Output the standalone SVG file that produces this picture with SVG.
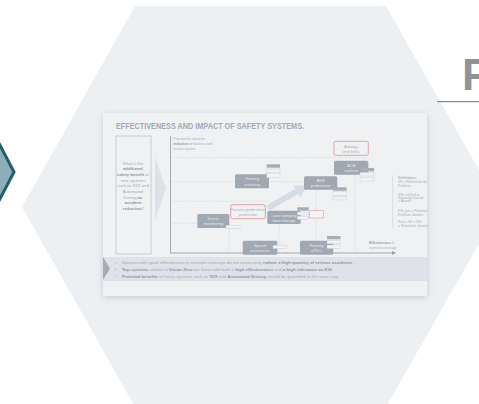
<svg xmlns="http://www.w3.org/2000/svg" width="479" height="404" viewBox="0 0 479 404">
<defs>
<filter id="sh" x="-10%" y="-10%" width="120%" height="130%">
<feDropShadow dx="0" dy="1.5" stdDeviation="3" flood-color="#8a929c" flood-opacity="0.4"/>
</filter>
<marker id="ax" markerWidth="4" markerHeight="4" refX="3" refY="2" orient="auto" markerUnits="userSpaceOnUse">
<path d="M0,0 L4,2 L0,4 z" fill="#9aa1aa"/>
</marker>
<style>
text{font-family:"Liberation Sans",Arial,sans-serif}
.nd{fill:#a0a8b2}
.nt{fill:#e6e9ed;font-size:4.2px;text-anchor:middle}
.rd{fill:#eff1f3;stroke:#dc9ca2;stroke-width:0.9}
.rt{fill:#a9afb8;font-size:4.2px;text-anchor:middle}
.tg{fill:#a6adb7}
.tl{fill:#f1f3f5;stroke:#c3c8cf;stroke-width:0.4}
.dl{stroke:#c6cbd2;stroke-width:0.5;stroke-dasharray:1.2 1;fill:none}
.sm{fill:#aab0b9;font-size:3.4px}
.bx{fill:#a3a9b2;font-size:4.2px}
.b{font-weight:bold;fill:#8f96a0}
</style>
</defs>
<rect width="479" height="404" fill="#ffffff"/>
<polygon points="135,6 386,6 500,207 386,407 135,407 22,207" fill="#ecf0f3"/>
<polygon points="-10,126 14,172 -10,218" fill="#8eaeb6" stroke="#1d5f6e" stroke-width="3" stroke-linejoin="miter"/>
<text x="462" y="90" font-size="44" font-weight="bold" fill="#8e9398">P</text>
<line x1="437" y1="101.7" x2="479" y2="101.7" stroke="#6b96ab" stroke-width="1.3"/>

<g id="slide">
<rect x="103" y="113" width="324" height="183" fill="#eff1f3" filter="url(#sh)"/>
<text x="116" y="129" font-size="8.8" font-weight="bold" fill="#a3a9b3" textLength="188" lengthAdjust="spacingAndGlyphs">EFFECTIVENESS AND IMPACT OF SAFETY SYSTEMS.</text>
</g>

<g id="question">
<rect x="116" y="136" width="35" height="118" fill="none" stroke="#b8bdc4" stroke-width="0.7"/>
<text class="bx" text-anchor="middle">
<tspan x="133.5" y="164.5">What is the</tspan>
<tspan x="133.5" y="170.2" class="b">additional</tspan>
<tspan x="133.5" y="175.9"><tspan class="b">safety benefit</tspan> of</tspan>
<tspan x="133.5" y="181.6">new systems</tspan>
<tspan x="133.5" y="187.3">such as V2X and</tspan>
<tspan x="133.5" y="193">Automated</tspan>
<tspan x="133.5" y="198.7">Driving <tspan class="b">as</tspan></tspan>
<tspan x="133.5" y="204.4" class="b">accident</tspan>
<tspan x="133.5" y="210.2"><tspan class="b">reduction</tspan>?</tspan>
</text>
<polygon points="155,157 166,188 155,220" fill="#dde2e8"/>
</g>

<g id="connectors">
<line x1="170.5" y1="136" x2="170.5" y2="253" stroke="#9aa1aa" stroke-width="0.9"/>
<line x1="170" y1="253" x2="395" y2="253" stroke="#9aa1aa" stroke-width="0.9" marker-end="url(#ax)"/>
<line class="dl" x1="172" y1="157.5" x2="368" y2="157.5"/>
<line class="dl" x1="172" y1="181.7" x2="304" y2="181.7"/>
<line class="dl" x1="172" y1="201.3" x2="268" y2="201.3"/>
<line class="dl" x1="172" y1="223.3" x2="197" y2="223.3"/>
<line class="dl" x1="229" y1="228" x2="229" y2="253"/>
<line class="dl" x1="279" y1="224" x2="279" y2="253"/>
<line class="dl" x1="316" y1="190" x2="316" y2="241"/>
<line class="dl" x1="355" y1="175" x2="355" y2="253"/>
<path transform="translate(268,208) rotate(-30)" d="M0,-3 L33,-3 L33,-7 L45,0 L33,7 L33,3 L0,3 z" fill="#d6dce4"/>
</g>

<g id="axis-labels">
<text class="sm" x="173" y="139.5" font-size="3.4">Potential for absolute</text>
<text class="sm" x="173" y="144.5"><tspan font-weight="bold" fill="#969da7">reduction</tspan> of fatalities and</text>
<text class="sm" x="173" y="149.5">serious injuries</text>
<text class="sm" x="369" y="244"><tspan font-weight="bold" fill="#969da7">Effectiveness</tspan> in</text>
<text class="sm" x="369" y="249">scenario coverage</text>
</g>

<g id="definitions">
<line x1="392.7" y1="175" x2="392.7" y2="228" stroke="#c3c8cf" stroke-width="0.5"/>
<text class="sm" x="398" y="178.5" font-weight="bold" fill="#969da7" font-size="3.2">Definitions:</text>
<text class="sm" font-size="2.8"><tspan x="398" y="183">VF = Effektivität der</tspan><tspan x="398" y="186.5">Funktion</tspan>
<tspan x="398" y="195.5">KSI = Killed or</tspan><tspan x="398" y="198.5">Seriously Injured</tspan><tspan x="398" y="201.5">= Anzahl</tspan>
<tspan x="398" y="212">KSI_pot = Potential</tspan><tspan x="398" y="215.5">Funktion absolut</tspan>
<tspan x="398" y="222.5">Red = VF x KSI</tspan><tspan x="398" y="226.5">= Reduktion absolut</tspan></text>
</g>

<g id="n-airbags">
<rect class="rd" x="334" y="141.3" width="34.3" height="14" rx="1.5"/>
<text class="rt"><tspan x="351.2" y="147.5">Airbags</tspan><tspan x="351.2" y="152.7">and belts</tspan></text>
</g>
<g id="n-acb">
<rect class="nd" x="334" y="160.7" width="34.3" height="14" rx="1.5"/>
<text class="nt"><tspan x="351.2" y="166.8">ACB</tspan><tspan x="351.2" y="172">car2car</tspan></text>
<rect class="tg" x="360" y="168" width="14" height="3.3"/>
<rect class="tl" x="360" y="172.5" width="14" height="3.5"/>
<rect class="tl" x="360" y="177.2" width="14" height="3.8"/>
</g>
<g id="n-turning">
<rect class="nd" x="235" y="174.3" width="34" height="14" rx="1.5"/>
<text class="nt"><tspan x="252" y="180.4">Turning</tspan><tspan x="252" y="185.6">crossing</tspan></text>
<rect class="tg" x="266.7" y="164.3" width="13.3" height="3.4"/>
<rect class="tl" x="266.7" y="169" width="13.3" height="3.3"/>
<rect class="tl" x="266.7" y="173.7" width="13.3" height="4"/>
</g>
<g id="n-aeb">
<rect class="nd" x="304" y="176.3" width="33.3" height="13.4" rx="1.5"/>
<text class="nt"><tspan x="320.6" y="182.3">AEB</tspan><tspan x="320.6" y="187.4">pedestrian</tspan></text>
<rect class="tg" x="333" y="187.3" width="13.7" height="3.4"/>
<rect class="tl" x="333" y="191.8" width="13.7" height="3.4"/>
<rect class="tl" x="333" y="196.3" width="13.7" height="3.6"/>
</g>
<g id="n-passive">
<rect class="rd" x="230.7" y="204.7" width="34.6" height="14" rx="1.5"/>
<text class="rt"><tspan x="248" y="210.8">Passive pedestrian</tspan><tspan x="248" y="216">protection</tspan></text>
</g>
<g id="n-driver">
<rect class="nd" x="197.3" y="214" width="32" height="14" rx="1.5"/>
<text class="nt"><tspan x="213.3" y="220.1">Driver</tspan><tspan x="213.3" y="225.3">monitoring</tspan></text>
<rect class="tl" x="226" y="225.3" width="14" height="3.4"/>
</g>
<g id="n-lane">
<rect class="nd" x="267.3" y="210.7" width="33.4" height="13.3" rx="1.5"/>
<text class="nt"><tspan x="284" y="216.6">Lane keeping</tspan><tspan x="284" y="221.8">lane change</tspan></text>
<rect class="tg" x="297.3" y="207.3" width="11.4" height="3.4"/>
<rect class="tl" x="297.3" y="212" width="11.4" height="3"/>
<rect class="tl" x="297.3" y="216.2" width="11.4" height="3.2"/>
<rect x="309.3" y="210.7" width="14" height="7.3" fill="#f3f4f6" stroke="#dc9ca2" stroke-width="0.6"/>
</g>
<g id="n-speed">
<rect class="nd" x="242.7" y="240.7" width="34.6" height="14" rx="1.5"/>
<text class="nt"><tspan x="260" y="246.8">Speed</tspan><tspan x="260" y="252">assistance</tspan></text>
<rect class="tl" x="273" y="245.3" width="13.7" height="3.4"/>
</g>
<g id="n-parking">
<rect class="nd" x="300" y="240.7" width="33.3" height="14" rx="1.5"/>
<text class="nt"><tspan x="316.6" y="246.8">Parking</tspan><tspan x="316.6" y="252">aPDC</tspan></text>
<rect class="tg" x="327" y="236" width="13.5" height="3.3"/>
<rect class="tl" x="327" y="240.5" width="13.5" height="3.3"/>
<rect class="tl" x="327" y="245" width="13.5" height="3.5"/>
</g>

<g id="summary">
<rect x="103" y="257" width="324" height="24" fill="#dfe3e9"/>
<polygon points="103,257 110,268.5 103,280" fill="#a5acb6"/>
<g font-size="4.3" fill="#a3a9b2">
<circle cx="115.5" cy="262.8" r="0.6" fill="#a3a9b2"/>
<circle cx="115.5" cy="269.4" r="0.6" fill="#a3a9b2"/>
<circle cx="115.5" cy="276" r="0.6" fill="#a3a9b2"/>
<text x="122" y="264.3" textLength="231" lengthAdjust="spacingAndGlyphs">Systems with good effectiveness in scenario coverage do not necessarily <tspan class="b">reduce a high quantity of serious accidents.</tspan></text>
<text x="122" y="270.9" textLength="211" lengthAdjust="spacingAndGlyphs"><tspan class="b">Top systems</tspan> related to <tspan class="b">Vision Zero</tspan> are those with both a <tspan class="b">high effectiveness</tspan> and <tspan class="b">a high relevance on KSI.</tspan></text>
<text x="122" y="277.5" textLength="217" lengthAdjust="spacingAndGlyphs"><tspan class="b">Potential benefits</tspan> of future systems such as <tspan class="b">V2X</tspan> and <tspan class="b">Automated Driving</tspan> should be quantified in the same way.</text>
</g>
</g>
</svg>
